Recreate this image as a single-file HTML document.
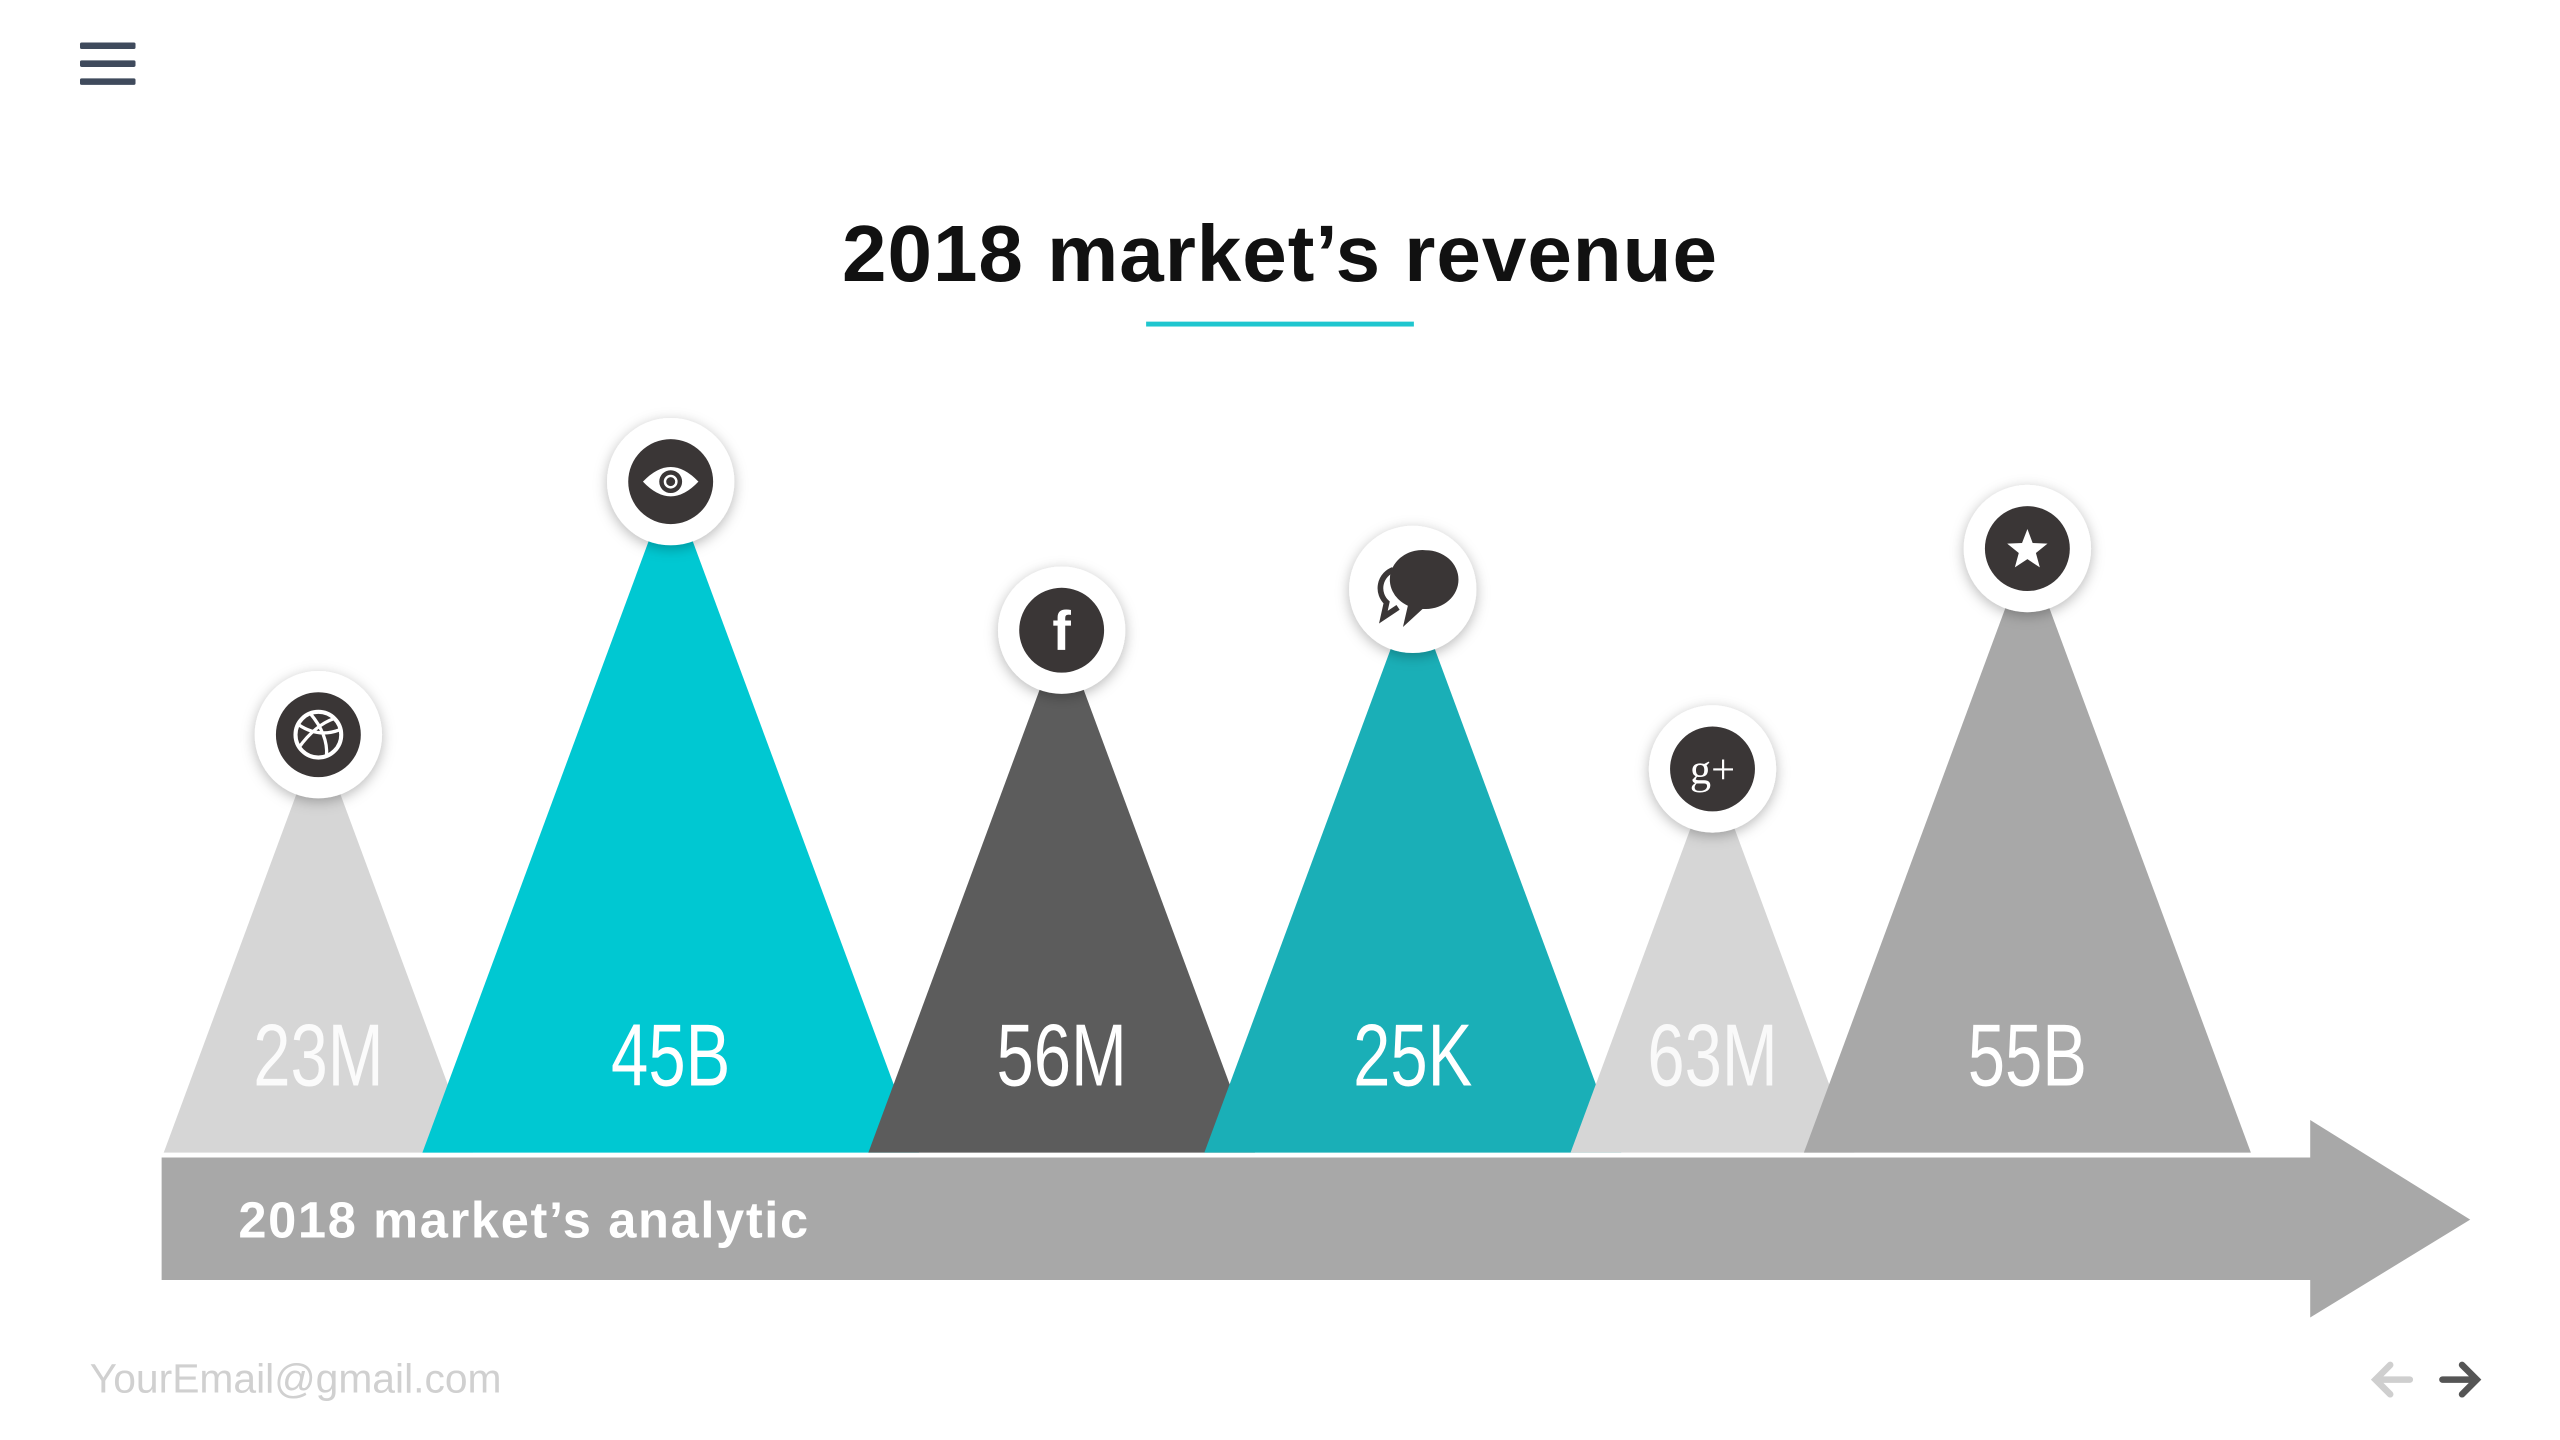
<!DOCTYPE html>
<html>
<head>
<meta charset="utf-8">
<style>
html,body{margin:0;padding:0;background:#fff;}
svg{display:block;}
</style>
</head>
<body>
<svg id="chart" width="2560" height="1440" viewBox="0 0 1568 882" xmlns="http://www.w3.org/2000/svg">
  <defs>
    <filter id="sh" x="-50%" y="-50%" width="200%" height="200%">
      <feDropShadow dx="0" dy="2" stdDeviation="4" flood-color="#000" flood-opacity="0.28"/>
    </filter>
  </defs>
  <g>
    <rect x="49" y="26" width="34" height="4" rx="1" fill="#3f4a5c"/>
    <rect x="49" y="37" width="34" height="4" rx="1" fill="#3f4a5c"/>
    <rect x="49" y="48" width="34" height="4" rx="1" fill="#3f4a5c"/>
  </g>
  <text x="784" y="172" text-anchor="middle" font-family="Liberation Sans, sans-serif" font-weight="bold" font-size="49" letter-spacing="0.6" fill="#111">2018 market’s revenue</text>
  <rect x="702" y="197" width="164" height="3" fill="#1fc6cf"/>
  <g id="marks"></g>
  <g>
    <polygon points="99,709 1415,709 1415,686 1513,747 1415,807 1415,784 99,784" fill="#a8a8a8"/>
    <text x="146" y="758" font-family="Liberation Sans, sans-serif" font-weight="bold" font-size="31" letter-spacing="1" fill="#fff">2018 market’s analytic</text>
  </g>
  <text x="55" y="853" font-family="Liberation Sans, sans-serif" font-size="25" fill="#d0d0d0">YourEmail@gmail.com</text>
  <g stroke="#cfcfcf" stroke-width="4" fill="none" stroke-linecap="round">
    <path d="M1476,845 H1455 M1464,836 L1455,845 L1464,854"/>
  </g>
  <g stroke="#555" stroke-width="4" fill="none" stroke-linecap="round">
    <path d="M1496,845 H1517 M1508,836 L1517,845 L1508,854"/>
  </g>
</svg>
<script>
const categories = ["dribbble","eye","facebook","chat","google-plus","star"];
const valueLabels = ["23M","45B","56M","25K","63M","55B"];
const values = [256, 411, 320, 345, 235, 370];
const colors = ["#d6d6d6","#00c8d2","#5c5c5c","#1aafb7","#d6d6d6","#a8a8a8"];
const labelOpacity = [0.9,1,1,1,0.85,1];

const NS = "http://www.w3.org/2000/svg";
const baseY = 706, slope = 0.37, overlap = 31, firstX = 195;
function y(v){ return baseY - v; }
function halfW(v){ return v * slope; }
const centers = [];
values.forEach((v,i)=>{
  if(i===0) centers.push(firstX);
  else centers.push(centers[i-1] + halfW(values[i-1]) + halfW(v) - overlap);
});
const g = document.getElementById("marks");
function mk(tag, attrs, parent){
  const e = document.createElementNS(NS, tag);
  for (const k in attrs) e.setAttribute(k, attrs[k]);
  (parent||g).appendChild(e);
  return e;
}
values.forEach((v,i)=>{
  const cx = centers[i], top = y(v), hw = halfW(v);
  const tri = mk("polygon",{points:`${cx-hw},${baseY} ${cx},${top} ${cx+hw},${baseY}`, fill:colors[i]});
  
  
});
values.forEach((v,i)=>{
  const cx = centers[i], top = y(v);
  const t = mk("text",{x:cx, y:665, "text-anchor":"middle", "font-family":"Liberation Sans, sans-serif", "font-size":"54", fill:"#fff", "fill-opacity":labelOpacity[i], transform:`translate(${cx},0) scale(0.76,1) translate(${-cx},0)`});
  t.textContent = valueLabels[i];
  
  
  const cy = top;
  const badge = mk("g",{});
  
  
  mk("circle",{cx:cx, cy:cy, r:39, fill:"#fff", filter:"url(#sh)"}, badge);
  const d = "#3a3636";
  const c = categories[i];
  if (c !== "chat") mk("circle",{cx:cx, cy:cy, r:26, fill:d}, badge);
  if (c === "dribbble") {
    mk("circle",{cx:cx, cy:cy, r:14, fill:"none", stroke:"#fff", "stroke-width":2.5}, badge);
    mk("path",{d:`M${cx-12},${cy-6} Q${cx},${cy+2} ${cx+13},${cy-3} M${cx-5},${cy-13} Q${cx+6},${cy} ${cx+5},${cy+13} M${cx-12},${cy+8} Q${cx-2},${cy-6} ${cx+10},${cy-10}`, fill:"none", stroke:"#fff", "stroke-width":2}, badge);
  } else if (c === "eye") {
    mk("path",{d:`M${cx-17},${cy} Q${cx},${cy-18} ${cx+17},${cy} Q${cx},${cy+18} ${cx-17},${cy}Z`, fill:"#fff"}, badge);
    mk("circle",{cx:cx, cy:cy, r:7, fill:d}, badge);
    mk("circle",{cx:cx, cy:cy, r:3.5, fill:"none", stroke:"#fff", "stroke-width":1.5}, badge);
  } else if (c === "facebook") {
    const f = mk("text",{x:cx, y:cy+12, "text-anchor":"middle", "font-family":"Liberation Sans, sans-serif", "font-weight":"bold", "font-size":"34", fill:"#fff"}, badge);
    f.textContent = "f";
  } else if (c === "google-plus") {
    const f = mk("text",{x:cx, y:cy+9, "text-anchor":"middle", "font-family":"Liberation Serif, serif", "font-size":"26", fill:"#fff"}, badge);
    f.textContent = "g+";
  } else if (c === "star") {
    let p = [];
    for (let k=0;k<10;k++){ const a = -Math.PI/2 + k*Math.PI/5; const r = k%2?5.5:13; p.push((cx+r*Math.cos(a)).toFixed(1)+","+(cy+1+r*Math.sin(a)).toFixed(1)); }
    mk("polygon",{points:p.join(" "), fill:"#fff"}, badge);
  } else if (c === "chat") {
    mk("path",{d:`M${cx+8},${cy-24} a20,18 0 1 1 0,36 l-2,0 l-12,11 l3,-13 a20,18 0 0 1 11,-34Z`, fill:d}, badge);
    mk("path",{d:`M${cx-12},${cy-12} a12,12 0 0 0 -4,20 l-2,9 l9,-6`, fill:"none", stroke:d, "stroke-width":3.5}, badge);
  }
});
</script>
</body>
</html>
